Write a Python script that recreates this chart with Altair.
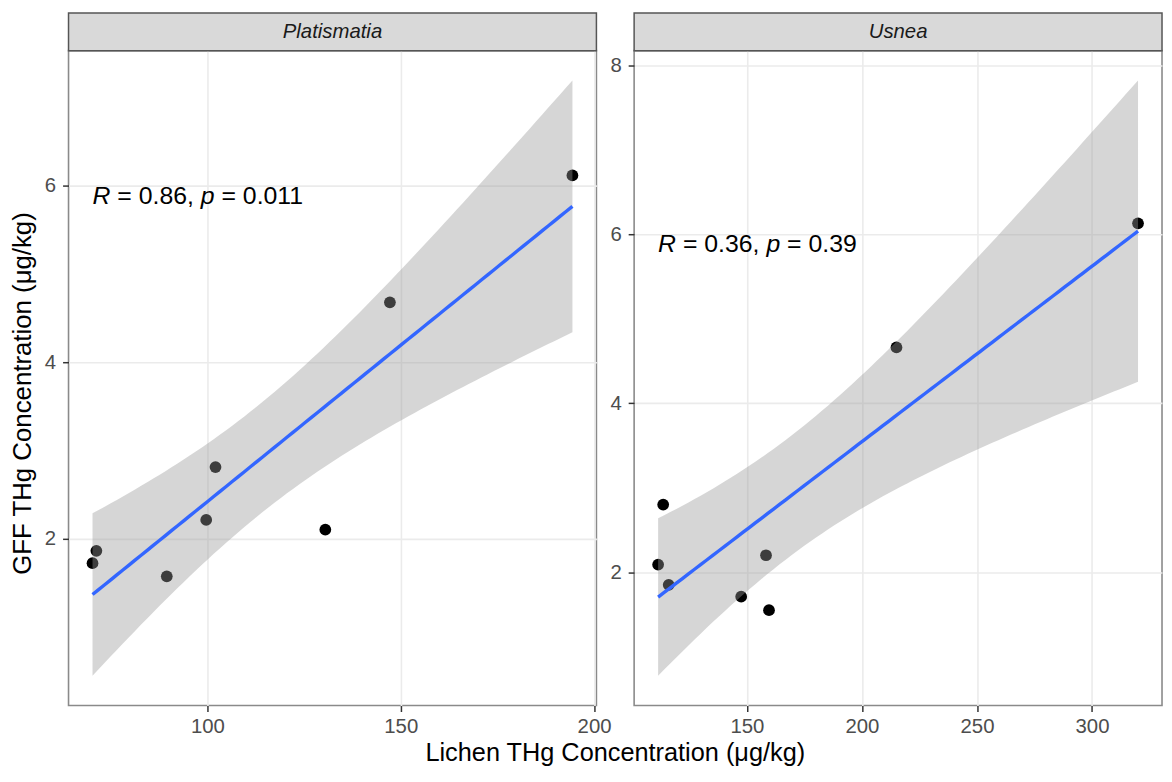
import altair as alt
import numpy as np
import pandas as pd

# ---------------- data ----------------
SPECIES = ["Platismatia", "Usnea"]
PLAT_LICHEN = [70.3, 71.3, 89.5, 99.7, 102.1, 130.5, 147.2, 194.4]
PLAT_GFF = [1.72, 1.86, 1.57, 2.21, 2.81, 2.10, 4.68, 6.12]
USNEA_LICHEN = [111.4, 113.6, 116.0, 147.5, 158.3, 159.6, 215.0, 320.0]
USNEA_GFF = [2.09, 2.80, 1.85, 1.71, 2.20, 1.55, 4.66, 6.13]
R_VALUES = ["0.86", "0.36"]
P_VALUES = ["0.011", "0.39"]
X_TICKS = [[100, 150, 200], [150, 200, 250, 300]]
Y_TICKS = [[2, 4, 6], [2, 4, 6, 8]]
X_TITLE = "Lichen THg Concentration (μg/kg)"
Y_TITLE = "GFF THg Concentration (μg/kg)"

T975_DF6 = 2.446912  # Student t quantile (0.975, df = n - 2 = 6) for the 95% band

# ---------------- style ----------------
W, H = 532, 660
STRIP_H = 38
GAP = 38
FONT = "Liberation Sans"
ANN_SIZE = 25
TITLE_SIZE = 25.5
SMALL_SIZE = 20.5

# Arial/Liberation Sans advance widths (em) for the annotation glyphs
CHAR_W = {"R": 0.722, "p": 0.556, "=": 0.584, " ": 0.278, ",": 0.278,
          ".": 0.278, **{d: 0.556 for d in "0123456789"}}


def text_w(s, size):
    return sum(CHAR_W.get(c, 0.556) for c in s) * size


def smooth(x, y, n=80):
    """lm fit with 95% confidence band, as geom_smooth(method = 'lm')."""
    x = np.asarray(x, float)
    y = np.asarray(y, float)
    xbar = x.mean()
    sxx = ((x - xbar) ** 2).sum()
    slope = ((x - xbar) * (y - y.mean())).sum() / sxx
    icpt = y.mean() - slope * xbar
    s = np.sqrt(((y - (icpt + slope * x)) ** 2).sum() / (len(x) - 2))
    grid = np.linspace(x.min(), x.max(), n)
    fit = icpt + slope * grid
    se = s * np.sqrt(1 / len(x) + (grid - xbar) ** 2 / sxx)
    return pd.DataFrame({"lichen": grid, "gff": fit,
                         "lo": fit - T975_DF6 * se, "hi": fit + T975_DF6 * se})


def panel(i, lichen, gff, first):
    pts = pd.DataFrame({"lichen": lichen, "gff": gff})
    band = smooth(lichen, gff)
    xr = max(lichen) - min(lichen)
    xdom = [min(lichen) - 0.05 * xr, max(lichen) + 0.05 * xr]
    ylo = min(min(gff), band["lo"].min())
    yhi = max(max(gff), band["hi"].max())
    yr = yhi - ylo
    ydom = [ylo - 0.05 * yr, yhi + 0.05 * yr]

    xs = alt.Scale(domain=xdom, nice=False, zero=False)
    ys = alt.Scale(domain=ydom, nice=False, zero=False)
    xaxis = alt.Axis(values=X_TICKS[i], title=None, grid=True)
    if first:
        yaxis = alt.Axis(values=Y_TICKS[i], grid=True, title=Y_TITLE,
                         titleY=345, titleFontSize=26)
    else:
        yaxis = alt.Axis(values=Y_TICKS[i], grid=True, title=None)
    X = alt.X("lichen:Q", scale=xs, axis=xaxis)
    Y = alt.Y("gff:Q", scale=ys, axis=yaxis)

    points = alt.Chart(pts).mark_circle(size=140, color="black", opacity=1).encode(x=X, y=Y)
    ribbon = alt.Chart(band).mark_area(color="#999999", opacity=0.4).encode(
        x=X, y=alt.Y("lo:Q", scale=ys, axis=yaxis), y2="hi:Q")
    line = alt.Chart(band).mark_line(color="#3366FF", strokeWidth=3.4).encode(x=X, y=Y)

    lab = pd.DataFrame({"lichen": [min(lichen)], "gff": [max(gff)],
                        "species": [SPECIES[i]]})
    # rich label "R = r, p = p" : (text, italic, advance after it incl. spaces)
    segs = [("R", True, "R "), ("=", False, "= "), (R_VALUES[i] + ",", False, R_VALUES[i] + ", "),
            ("p", True, "p "), ("=", False, "= "), (P_VALUES[i], False, P_VALUES[i])]
    ann = []
    off = 0.0
    for s, ital, adv in segs:
        ann.append(alt.Chart(lab).mark_text(
            text=s, align="left", baseline="alphabetic", dx=off, dy=29,
            font=FONT, fontSize=ANN_SIZE, fontStyle="italic" if ital else "normal",
            color="black").encode(x=X, y=Y))
        off += text_w(adv, ANN_SIZE)

    strip = alt.Chart(lab).mark_rect(fill="#D9D9D9", stroke="#555555", strokeWidth=1.5).encode(
        x=alt.value(0), x2=alt.value(W), y=alt.value(-STRIP_H), y2=alt.value(0))
    strip_text = alt.Chart(lab).mark_text(
        font=FONT, fontSize=SMALL_SIZE, fontStyle="italic", color="#1A1A1A",
        align="center", baseline="middle").encode(
        x=alt.value(W / 2), y=alt.value(-STRIP_H / 2), text="species:N")

    layers = [points, ribbon, line] + ann + [strip, strip_text]
    if first:
        xt = alt.Chart(lab).mark_text(
            text=X_TITLE, font=FONT, fontSize=TITLE_SIZE, color="black",
            align="center", baseline="alphabetic").encode(
            x=alt.value((2 * W + GAP) / 2), y=alt.value(H + 56))
        layers.append(xt)
    return alt.layer(*layers).properties(width=W, height=H)


left = panel(0, PLAT_LICHEN, PLAT_GFF, True)
right = panel(1, USNEA_LICHEN, USNEA_GFF, False)

chart = (
    alt.hconcat(left, right, spacing=GAP, bounds="flush")
    .resolve_scale(x="independent", y="independent")
    .properties(padding={"left": 0, "top": 0, "right": 0, "bottom": 0})
    .configure_view(stroke="#8a8a8a", strokeWidth=1.6)
    .configure_axis(labelFont=FONT, titleFont=FONT, labelFontSize=SMALL_SIZE,
                    labelColor="#4D4D4D", tickColor="#333333", tickWidth=1.5,
                    tickSize=6, domain=False, gridColor="#EBEBEB", gridWidth=1.6,
                    titleFontSize=TITLE_SIZE, titleColor="black",
                    titleFontWeight="normal")
    .configure_axisX(labelPadding=5)
    .configure_axisY(labelPadding=7, titlePadding=9)
)

chart.save("out.html", embed_options={"renderer": "svg", "actions": False})
